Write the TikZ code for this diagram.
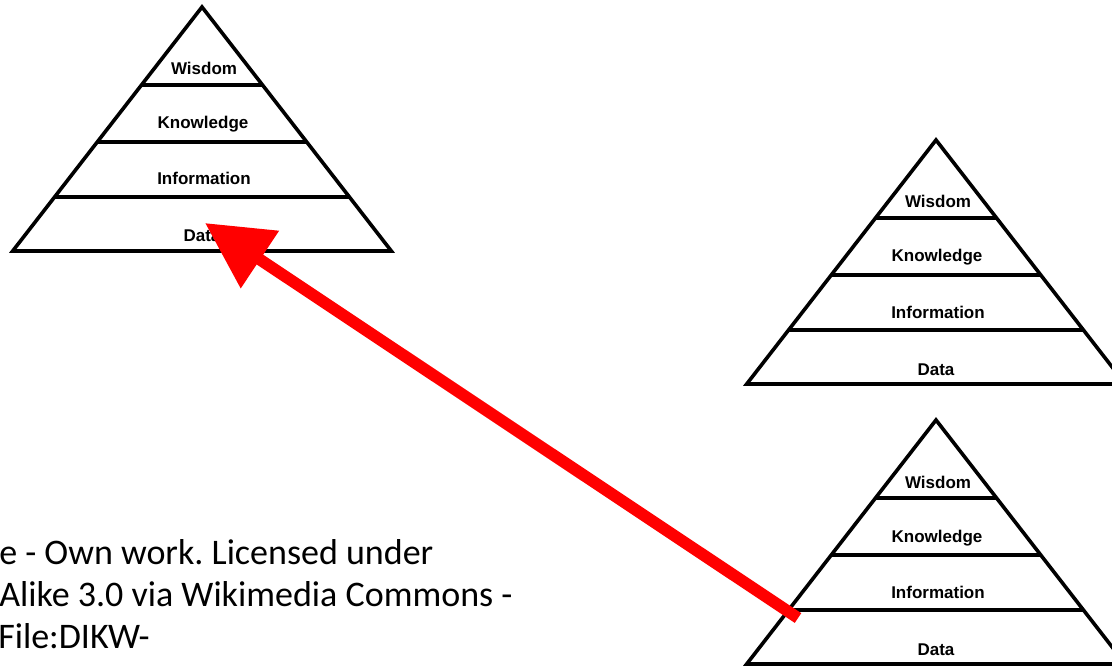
\documentclass[tikz,border=0pt]{standalone}
\usepackage{fontspec}
\setmainfont{Liberation Sans}
\newfontfamily\creditfont{Carlito}
\usepackage{xcolor}
\usepackage{tikz}
\usetikzlibrary{arrows.meta}
\definecolor{pointred}{rgb}{1,0,0}
\frenchspacing

\begin{document}
\begin{tikzpicture}[
  x=0.75pt, y=-0.75pt,
  edge/.style={line width=2.7pt},
  layer/.style={font=\bfseries\fontsize{12.75}{14}\selectfont, anchor=base, inner sep=0pt},
  credit/.style={font=\creditfont\fontsize{27}{32}\selectfont, anchor=base west, inner sep=0pt},
  bigarrow/.style={-{Triangle[length=49.5pt,width=49.5pt]}, line width=8.8pt, pointred},
  dikw/.pic={
    \draw[edge] (0,0) -- (189.3,244) -- (-189.3,244) -- cycle;
    \draw[edge] (-60.5,78) -- (60.5,78);
    \draw[edge] (-104.8,135) -- (104.8,135);
    \draw[edge] (-147.4,190) -- (147.4,190);
    \node[layer] (-wisdom) at (2,68) {Wisdom};
    \node[layer] (-knowledge) at (1,122) {Knowledge};
    \node[layer] (-information) at (2,178) {Information};
    \node[layer] (-data) at (0,235) {Data};
  }
]
\clip (0,0) rectangle (1112,666);

% the three pyramids
\pic (left) at (202,7) {dikw};
\pic (upper) at (936,140) {dikw};
\pic (lower) at (936,420) {dikw};

% credit line, cut off at the left border
\node[credit] (credit1) at (-1,564) {e - Own work. Licensed under};
\node[credit] (credit2) at (-1,606) {Alike 3.0 via Wikimedia Commons -};
\node[credit] (credit3) at (-2,648) {File:DIKW-};

% red pointer from the lower pyramid back to the left one
\coordinate (tail) at (798,618);
\coordinate (tip) at (205,223);
\draw[bigarrow] (tail) -- (tip);
\end{tikzpicture}
\end{document}
